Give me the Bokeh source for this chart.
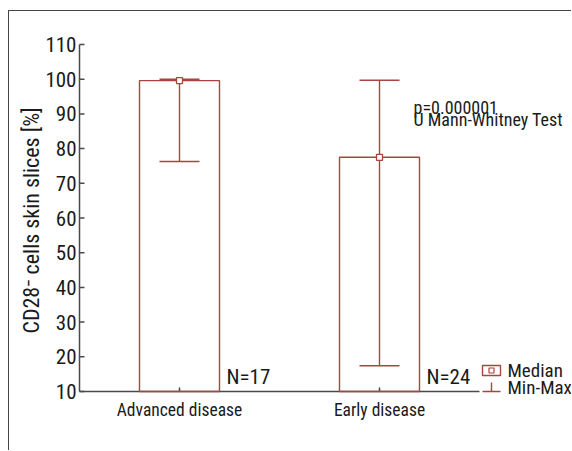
from bokeh.plotting import figure
from bokeh.models import Range1d, FixedTicker, Whisker, TeeHead, ColumnDataSource
from bokeh.core.properties import value
from bokeh.embed import file_html
from bokeh.resources import INLINE
import numpy as np

# ---------------- data ----------------
categories = ["Advanced disease", "Early disease"]
medians = [99.6, 77.5]
mins = [76.3, 17.4]
maxs = [100.0, 99.7]
group_n = [17, 24]
y_ticks = [10, 20, 30, 40, 50, 60, 70, 80, 90, 100, 110]
y_label = "CD28\u207b cells skin slices [%]"
p_value_text = "p=0.000001"
test_text = "U Mann-Whitney Test"
legend_labels = ["Median", "Min-Max"]

# ---------------- style / layout ----------------
RED = "#a8453f"
AXIS = "#4a4a4a"
TXT = "#1a1a1a"
FONT = "Roboto Condensed"

W, H = 563, 440                 # canvas (page offset 9, 11 because of css margin+border)
ML, MT, MB, MR = 68, 29, 51, 0
frame_w = W - ML - MR
frame_h = H - MT - MB
unit_px = 200                   # pixels per category slot
pad_l, pad_t, pad_b = 2, 4, 9   # frame padding around the drawn axes (pixels)
ppu = (frame_h - pad_t - pad_b) / (y_ticks[-1] - y_ticks[0])
n = len(categories)
pos = np.arange(n) + 0.5
bar_w = 0.4
y0, y1 = y_ticks[0], y_ticks[-1]

p = figure(width=W, height=H,
           x_range=Range1d(-pad_l / unit_px, (frame_w - pad_l) / unit_px),
           y_range=Range1d(y0 - pad_b / ppu, y1 + pad_t / ppu),
           output_backend="svg", toolbar_location=None,
           min_border_left=ML, min_border_right=MR,
           min_border_top=MT, min_border_bottom=MB)
p.styles = {"margin-left": "8px", "margin-top": "10px",
            "border-left": "1px solid #444", "border-top": "1px solid #444"}
p.extra_x_ranges = {"px": Range1d(0, frame_w)}
p.extra_y_ranges = {"px": Range1d(0, frame_h)}
p.outline_line_color = None
p.xgrid.visible = False
p.ygrid.visible = False
p.background_fill_color = "white"
p.border_fill_color = "white"

# y axis (labels from bokeh axis, line and ticks drawn as glyphs)
ya = p.yaxis[0]
ya.ticker = FixedTicker(ticks=y_ticks)
ya.axis_line_color = None
ya.major_tick_line_color = None
ya.minor_tick_line_color = None
ya.major_tick_in = 0
ya.major_tick_out = 0
ya.major_label_standoff = 1
ya.major_label_text_font = FONT
ya.major_label_text_font_size = "21px"
ya.major_label_text_color = TXT
ya.axis_label = y_label
ya.axis_label_text_font = FONT
ya.axis_label_text_font_size = "22px"
ya.axis_label_text_font_style = "normal"
ya.axis_label_text_color = TXT
ya.axis_label_standoff = -2

p.segment(x0=[0], x1=[0], y0=[y0], y1=[y1], line_color=AXIS, line_width=1.5)
p.segment(x0=[pad_l] * len(y_ticks), x1=[pad_l + 5] * len(y_ticks),
          y0=y_ticks, y1=y_ticks, x_range_name="px",
          line_color=AXIS, line_width=1.5)

# x axis
xa = p.xaxis[0]
xa.ticker = FixedTicker(ticks=list(pos))
xa.major_label_overrides = {float(x): c for x, c in zip(pos, categories)}
xa.axis_line_color = None
xa.major_tick_line_color = None
xa.minor_tick_line_color = None
xa.major_tick_in = 0
xa.major_tick_out = 0
xa.major_label_standoff = -1
xa.major_label_text_font = FONT
xa.major_label_text_font_size = "17.5px"
xa.major_label_text_color = TXT

p.segment(x0=[0], x1=[n], y0=[y0], y1=[y0], line_color=AXIS, line_width=1.5)
p.segment(x0=pos, x1=pos, y0=[pad_b] * n, y1=[pad_b + 4] * n, y_range_name="px",
          line_color=AXIS, line_width=1.5)

# bars
p.vbar(x=pos, width=bar_w, bottom=y0, top=medians, fill_alpha=0,
       line_color=RED, line_width=1.4)

# whiskers
wsrc = ColumnDataSource(dict(x=pos, lo=mins, hi=maxs))
p.add_layout(Whisker(source=wsrc, base="x", lower="lo", upper="hi", dimension="height",
                     line_color=RED, line_width=1.4,
                     lower_head=TeeHead(size=40, line_color=RED, line_width=1.4),
                     upper_head=TeeHead(size=40, line_color=RED, line_width=1.4)))

# medians
p.scatter(x=pos, y=medians, marker="square", size=6, fill_color="white",
          line_color=RED, line_width=1.3)

# N labels
p.text(x=pos + bar_w / 2, y=[y0] * n, text=[f"N={k}" for k in group_n],
       x_offset=7, y_offset=-15, text_baseline="alphabetic", text_align="left",
       text_font=value(FONT), text_font_size="21px", text_color=TXT)

# test annotation
p.text(x=[pos[-1], pos[-1]], y=[90.1, 90.1], text=[p_value_text, test_text],
       x_offset=34, y_offset=[-6, 6], text_baseline="alphabetic", text_align="left",
       text_font=value(FONT), text_font_size="18px", text_color=TXT)

# legend (pixel coordinates of the plot frame)
lx = frame_w - 81
p.quad(left=lx - 9, right=lx + 9, bottom=25, top=35, fill_alpha=0,
       line_color=RED, line_width=1.4, x_range_name="px", y_range_name="px")
p.scatter(x=[lx], y=[30], marker="square", size=5, fill_color="white",
          line_color=RED, line_width=1.2, x_range_name="px", y_range_name="px")
p.segment(x0=[lx, lx - 9], x1=[lx, lx + 9], y0=[pad_b, pad_b], y1=[pad_b + 9, pad_b],
          line_color=RED, line_width=1.4, x_range_name="px", y_range_name="px")
p.text(x=[lx + 16, lx + 16], y=[30, 13], text=legend_labels,
       text_baseline="alphabetic", text_align="left",
       text_font=value(FONT), text_font_size="19px", text_color=TXT,
       x_range_name="px", y_range_name="px")

open("out.html", "w").write(file_html(p, INLINE))
